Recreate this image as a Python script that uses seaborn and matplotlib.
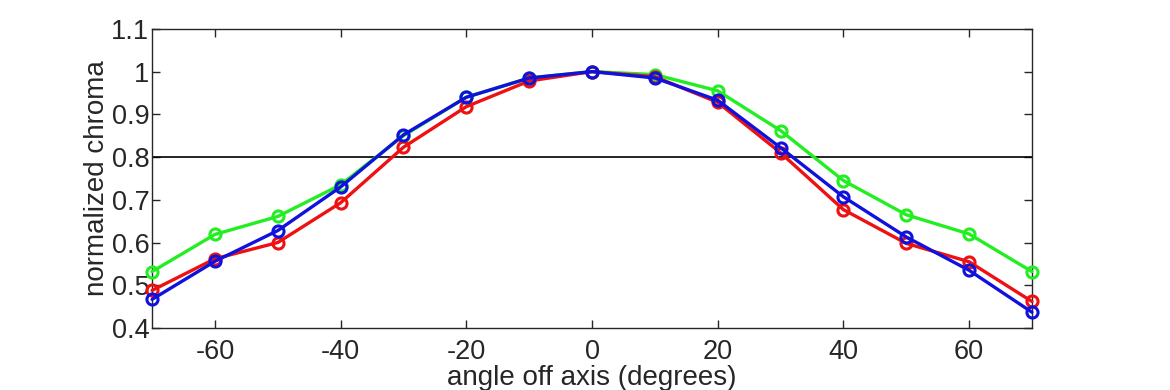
import matplotlib
matplotlib.use("Agg")
import matplotlib.pyplot as plt
import pandas as pd
import seaborn as sns

# angles and normalized chroma per channel
angles = [-70, -60, -50, -40, -30, -20, -10, 0, 10, 20, 30, 40, 50, 60, 70]
green = [0.532, 0.619, 0.661, 0.735, 0.850, 0.940, 0.985, 1.0, 0.993, 0.955, 0.862, 0.745, 0.665, 0.620, 0.532]
red = [0.488, 0.562, 0.600, 0.693, 0.823, 0.918, 0.978, 1.0, 0.988, 0.928, 0.810, 0.677, 0.598, 0.555, 0.462]
blue = [0.467, 0.556, 0.628, 0.730, 0.852, 0.940, 0.985, 1.0, 0.985, 0.933, 0.822, 0.707, 0.613, 0.535, 0.437]
threshold = 0.8

sns.set_style("ticks")
plt.rcParams["font.family"] = ["Liberation Sans", "DejaVu Sans"]
plt.rcParams["axes.unicode_minus"] = False

fig = plt.figure(figsize=(11.7, 3.9), dpi=100)
ax = fig.add_axes([0.130, 0.159, 0.752, 0.767])

ax.axhline(threshold, color="black", linewidth=1.2, zorder=1)

series = [("green", green, "#22ee22"), ("red", red, "#ee1111"), ("blue", blue, "#1111dd")]
for name, vals, col in series:
    df = pd.DataFrame({"angle": angles, "chroma": vals})
    sns.lineplot(data=df, x="angle", y="chroma", ax=ax, color=col, linewidth=2.4,
                 marker="o", markersize=8, markerfacecolor="none",
                 markeredgecolor=col, markeredgewidth=2.2, zorder=3, clip_on=False)

ax.set_xlim(-70, 70)
ax.set_ylim(0.4, 1.1)
ax.set_xticks([-60, -40, -20, 0, 20, 40, 60])
ax.set_yticks([0.4, 0.5, 0.6, 0.7, 0.8, 0.9, 1.0, 1.1])
ax.set_yticklabels(["0.4", "0.5", "0.6", "0.7", "0.8", "0.9", "1", "1.1"])
ax.tick_params(direction="in", length=6, width=1, labelsize=19.5, colors="#262626",
               top=True, right=True)
ax.tick_params(axis="y", pad=2)
ax.tick_params(axis="x", pad=8)
for s in ax.spines.values():
    s.set_color("#262626")
    s.set_linewidth(1)
ax.set_xlabel("angle off axis (degrees)", fontsize=20, color="#262626", labelpad=0)
ax.set_ylabel("normalized chroma", fontsize=20, color="#262626", labelpad=1)

fig.savefig("out.png", dpi=100)
